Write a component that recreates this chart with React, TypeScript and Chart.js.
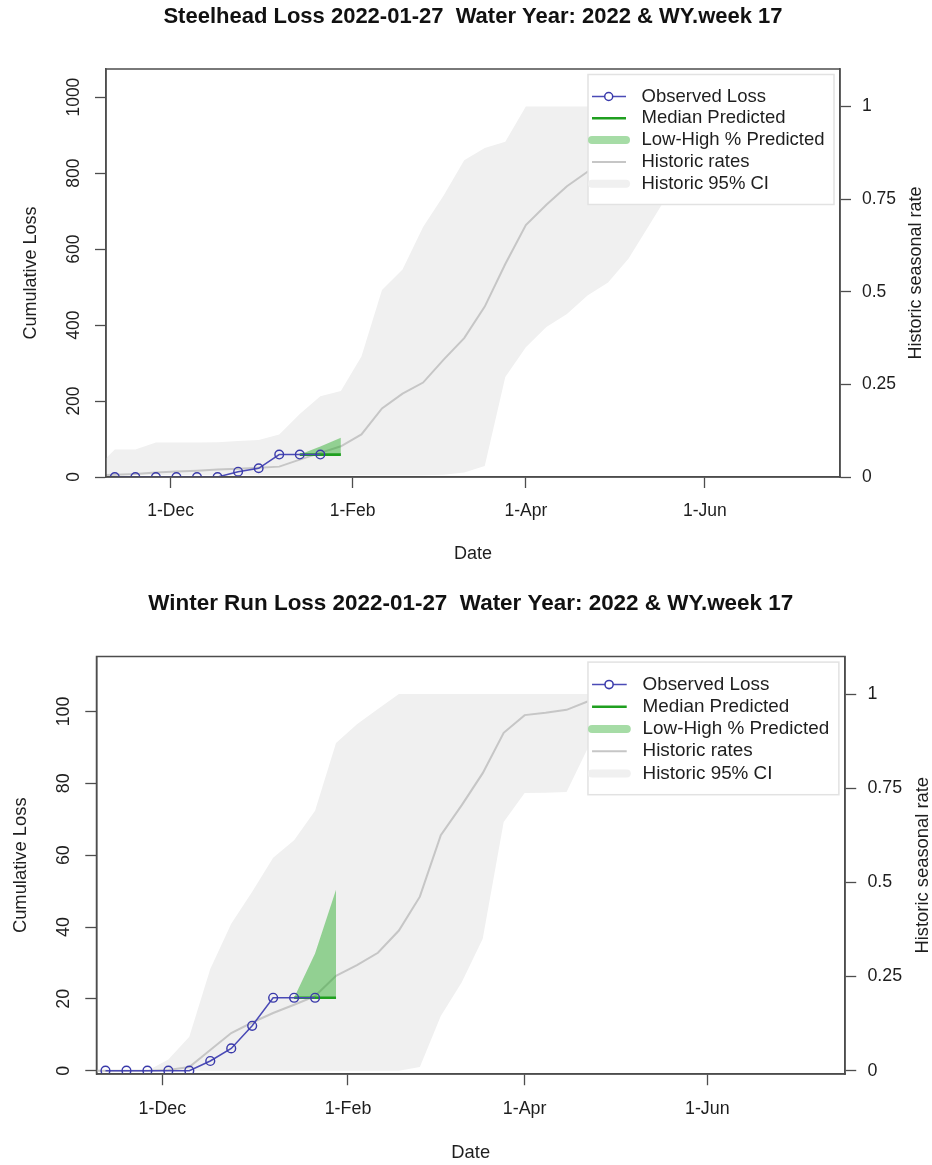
import React, { useEffect, useRef } from 'react';
import { Chart, registerables } from 'chart.js';

Chart.register(...registerables);

const FONT = '"Liberation Sans", Arial, Helvetica, sans-serif';

// x values are days counted from 1 Oct 2021 (start of water year 2022)
const xMinDay = 39;
const xMaxDay = 289;
const dateTickDays = [61, 123, 182, 243];
const dateTickLabels = ['1-Dec', '1-Feb', '1-Apr', '1-Jun'];

const observedDays = [42, 49, 56, 63, 70, 77, 84, 91, 98, 105, 112];
const predictedDays = [105, 112, 119];
const historicDays = [35, 42, 49, 56, 63, 70, 77, 84, 91, 98, 105, 112, 119, 126, 133, 140, 147, 154, 161, 168, 175, 182, 189, 196, 203, 210, 217, 224, 231, 238, 245, 252, 259, 266, 273, 280];

const rateTicks = [0, 0.25, 0.5, 0.75, 1];
const rateTickLabels = ['0', '0.25', '0.5', '0.75', '1'];

const legendLabels = ['Observed Loss', 'Median Predicted', 'Low-High % Predicted', 'Historic rates', 'Historic 95% CI'];
const xAxisTitle = 'Date';
const lossAxisTitle = 'Cumulative Loss';
const rateAxisTitle = 'Historic seasonal rate';

// Steelhead
const shTitle = 'Steelhead Loss 2022-01-27  Water Year: 2022 & WY.week 17';
const shLossTicks = [0, 200, 400, 600, 800, 1000];
const shObserved = [0, 0, 0, 0, 0, 0, 14, 23, 59, 59, 59];
const shMedian = [59, 59, 59];
const shLow = [59, 59, 59];
const shHigh = [59, 80, 103];
const shHistRate = [0.004, 0.006, 0.008, 0.012, 0.015, 0.017, 0.02, 0.022, 0.025, 0.028, 0.047, 0.065, 0.083, 0.115, 0.185, 0.225, 0.255, 0.317, 0.375, 0.46, 0.575, 0.68, 0.735, 0.785, 0.824, 0.86, 0.89, 0.92, 0.945, 0.965, 0.98, 0.99, 1, 1, 1, 1];
const shCiHigh = [0.02, 0.074, 0.074, 0.093, 0.093, 0.093, 0.094, 0.097, 0.1, 0.115, 0.17, 0.218, 0.232, 0.325, 0.505, 0.56, 0.675, 0.76, 0.855, 0.888, 0.905, 1, 1, 1, 1, 1, 1, 1, 1, 1, 1, 1, 1, 1, 1, 1];
const shCiLow = [0.005, 0.005, 0.005, 0.005, 0.005, 0.005, 0.005, 0.005, 0.005, 0.005, 0.005, 0.005, 0.005, 0.005, 0.005, 0.005, 0.005, 0.006, 0.012, 0.03, 0.27, 0.35, 0.405, 0.44, 0.49, 0.525, 0.59, 0.68, 0.77, 0.86, 0.94, 0.99, 1, 1, 1, 1];

// Winter run
const wrTitle = 'Winter Run Loss 2022-01-27  Water Year: 2022 & WY.week 17';
const wrLossTicks = [0, 20, 40, 60, 80, 100];
const wrObserved = [0, 0, 0, 0, 0, 2.7, 6.2, 12.5, 20.3, 20.3, 20.3];
const wrMedian = [20.3, 20.3, 20.3];
const wrLow = [20.3, 20.3, 20.3];
const wrHigh = [20.3, 32.6, 50.4];
const wrHistRate = [0, 0, 0, 0, 0.002, 0.01, 0.055, 0.1, 0.128, 0.153, 0.175, 0.198, 0.252, 0.28, 0.313, 0.372, 0.462, 0.625, 0.705, 0.79, 0.897, 0.944, 0.95, 0.958, 0.98, 0.99, 1, 1, 1, 1, 1, 1, 1, 1, 1, 1];
const wrCiHigh = [0, 0, 0, 0, 0.03, 0.09, 0.27, 0.39, 0.475, 0.565, 0.612, 0.69, 0.87, 0.92, 0.96, 1, 1, 1, 1, 1, 1, 1, 1, 1, 1, 1, 1, 1, 1, 1, 1, 1, 1, 1, 1, 1];
const wrCiLow = [0, 0, 0, 0, 0, 0, 0, 0, 0, 0, 0, 0, 0, 0, 0, 0, 0.01, 0.145, 0.235, 0.35, 0.66, 0.737, 0.738, 0.74, 0.855, 0.95, 1, 1, 1, 1, 1, 1, 1, 1, 1, 1];

const COL_OBS_LINE = '#4a4ab6';
const COL_OBS_PT = '#3a3aaa';
const COL_MED = '#1f9f1f';
const COL_FILL = 'rgba(34,170,34,0.46)';
const COL_LEG_FILL = '#a6dca6';
const COL_HIST = '#c6c6c6';
const COL_CI = '#f0f0f0';
const COL_AXIS = '#4d4d4d';
const COL_TEXT = '#1e1e1e';

type Area = { left: number; right: number; top: number; bottom: number };
type Spec = {
  title: string;
  lossTicks: number[];
  lossMin: number;
  lossMax: number;
  rateMin: number;
  rateMax: number;
  observed: number[];
  median: number[];
  low: number[];
  high: number[];
  histRate: number[];
  ciLow: number[];
  ciHigh: number[];
  canvasTop: number;
  canvasHeight: number;
  area: Area;
  s: number;
};

const steelheadSpec: Spec = {
  title: shTitle, lossTicks: shLossTicks, lossMin: 0, lossMax: 1074, rateMin: 0, rateMax: 1.1015,
  observed: shObserved, median: shMedian, low: shLow, high: shHigh,
  histRate: shHistRate, ciLow: shCiLow, ciHigh: shCiHigh,
  canvasTop: 0, canvasHeight: 582, area: { left: 106, right: 840, top: 69, bottom: 477 }, s: 1,
};

const winterSpec: Spec = {
  title: wrTitle, lossTicks: wrLossTicks, lossMin: -0.92, lossMax: 115.3, rateMin: -0.0088, rateMax: 1.0996,
  observed: wrObserved, median: wrMedian, low: wrLow, high: wrHigh,
  histRate: wrHistRate, ciLow: wrCiLow, ciHigh: wrCiHigh,
  canvasTop: 582, canvasHeight: 583, area: { left: 96.5, right: 845, top: 74.5, bottom: 492 }, s: 1.02,
};

const rStylePlugin = {
  id: 'rStyle',
  afterDraw(chart: any, _args: any, opts: any) {
    const { ctx, chartArea: a } = chart;
    const s = opts.s;
    const cx = (a.left + a.right) / 2;
    const cy = (a.top + a.bottom) / 2;
    ctx.save();
    // legend
    const lw = 246 * s;
    const lh = 130 * s;
    const lx = a.right - 6 * s - lw;
    const ly = a.top + 5.5 * s;
    ctx.fillStyle = '#ffffff';
    ctx.fillRect(lx, ly, lw, lh);
    ctx.strokeStyle = '#e2e2e2';
    ctx.lineWidth = 1.5;
    ctx.strokeRect(lx, ly, lw, lh);
    legendLabels.forEach((label, i) => {
      const y = ly + 22 * s + i * 21.8 * s;
      const x0 = lx + 4 * s;
      const x1 = lx + 38 * s;
      ctx.beginPath();
      ctx.moveTo(x0, y);
      ctx.lineTo(x1, y);
      if (i === 0) {
        ctx.lineCap = 'butt';
        ctx.strokeStyle = COL_OBS_LINE;
        ctx.lineWidth = 1.5 * s;
        ctx.stroke();
        ctx.beginPath();
        ctx.arc(lx + 20.7 * s, y, 4 * s, 0, Math.PI * 2);
        ctx.fillStyle = '#ffffff';
        ctx.fill();
        ctx.strokeStyle = COL_OBS_PT;
        ctx.lineWidth = 1.5 * s;
        ctx.stroke();
      } else if (i === 1) {
        ctx.lineCap = 'butt';
        ctx.strokeStyle = COL_MED;
        ctx.lineWidth = 2.5 * s;
        ctx.stroke();
      } else if (i === 2) {
        ctx.lineCap = 'round';
        ctx.strokeStyle = COL_LEG_FILL;
        ctx.lineWidth = 8 * s;
        ctx.stroke();
      } else if (i === 3) {
        ctx.lineCap = 'butt';
        ctx.strokeStyle = COL_HIST;
        ctx.lineWidth = 2 * s;
        ctx.stroke();
      } else {
        ctx.lineCap = 'round';
        ctx.strokeStyle = COL_CI;
        ctx.lineWidth = 8 * s;
        ctx.stroke();
      }
      ctx.fillStyle = COL_TEXT;
      ctx.font = `${18.5 * s}px ${FONT}`;
      ctx.textAlign = 'left';
      ctx.textBaseline = 'middle';
      ctx.fillText(label, lx + 53.5 * s, y);
    });
    // plot box
    ctx.lineCap = 'butt';
    ctx.strokeStyle = COL_AXIS;
    ctx.lineWidth = 1.5;
    ctx.strokeRect(a.left, a.top, a.right - a.left, a.bottom - a.top);
    // titles
    ctx.fillStyle = '#111111';
    ctx.textAlign = 'center';
    ctx.textBaseline = 'middle';
    ctx.font = `bold ${22 * s}px ${FONT}`;
    ctx.fillText(opts.title, cx, a.top - 52 * s);
    ctx.fillStyle = COL_TEXT;
    ctx.font = `${18 * s}px ${FONT}`;
    ctx.fillText(xAxisTitle, cx, a.bottom + 77 * s);
    ctx.save();
    ctx.translate(a.left - 74.5 * s, cy);
    ctx.rotate(-Math.PI / 2);
    ctx.fillText(lossAxisTitle, 0, 0);
    ctx.restore();
    ctx.save();
    ctx.translate(a.right + 76 * s, cy);
    ctx.rotate(-Math.PI / 2);
    ctx.fillText(rateAxisTitle, 0, 0);
    ctx.restore();
    ctx.restore();
  },
};

function buildConfig(sp: Spec): any {
  const s = sp.s;
  const W = 932;
  const tl = 11 * s;
  const tickSize = 17.5 * s;
  const tickFont = { family: FONT, size: tickSize, lineHeight: 1.2 };
  const mctx = document.createElement('canvas').getContext('2d')!;
  mctx.font = `${tickSize}px ${FONT}`;
  const widest = Math.max(...sp.lossTicks.map((v) => mctx.measureText(String(v)).width));
  const leftPad = 32 * s - tl - widest / 2;
  const xAxisHeight = 60;
  const grid = { display: true, drawOnChartArea: false, drawTicks: true, tickLength: tl, tickColor: COL_AXIS, tickWidth: 1.3 };
  const border = { display: true, color: COL_AXIS, width: 1.5 };
  const pts = (xs: number[], ys: number[]) => xs.map((x, i) => ({ x, y: ys[i] }));
  const hidden = { borderColor: 'rgba(0,0,0,0)', borderWidth: 0, pointRadius: 0 };
  return {
    type: 'line',
    data: {
      datasets: [
        {
          label: legendLabels[0], data: pts(observedDays, sp.observed), yAxisID: 'y',
          borderColor: COL_OBS_LINE, borderWidth: 1.5 * s, pointRadius: 4.3 * s, pointBorderWidth: 1.4 * s,
          pointBorderColor: COL_OBS_PT, pointBackgroundColor: 'rgba(0,0,0,0)', fill: false, clip: 0,
        },
        { label: legendLabels[1], data: pts(predictedDays, sp.median), yAxisID: 'y', borderColor: COL_MED, borderWidth: 2.6 * s, pointRadius: 0, fill: false },
        { label: 'High predicted', data: pts(predictedDays, sp.high), yAxisID: 'y', ...hidden, fill: '+1', backgroundColor: COL_FILL },
        { label: 'Low predicted', data: pts(predictedDays, sp.low), yAxisID: 'y', ...hidden, fill: false },
        { label: legendLabels[3], data: pts(historicDays, sp.histRate), yAxisID: 'y1', borderColor: COL_HIST, borderWidth: 2 * s, pointRadius: 0, fill: false },
        { label: 'CI high', data: pts(historicDays, sp.ciHigh), yAxisID: 'y1', ...hidden, fill: '+1', backgroundColor: COL_CI },
        { label: 'CI low', data: pts(historicDays, sp.ciLow), yAxisID: 'y1', ...hidden, fill: false },
      ],
    },
    options: {
      responsive: false,
      animation: false,
      devicePixelRatio: 1,
      events: [],
      layout: {
        autoPadding: false,
        padding: { left: 0, right: 0, top: sp.area.top, bottom: sp.canvasHeight - sp.area.bottom - xAxisHeight },
      },
      plugins: {
        legend: { display: false },
        tooltip: { enabled: false },
        title: { display: false },
        rStyle: { s, title: sp.title },
      },
      scales: {
        x: {
          type: 'linear', position: 'bottom', min: xMinDay, max: xMaxDay,
          afterBuildTicks: (sc: any) => { sc.ticks = dateTickDays.map((v) => ({ value: v })); },
          afterFit: (sc: any) => { sc.height = xAxisHeight; },
          ticks: {
            autoSkip: false, maxRotation: 0, minRotation: 0, font: tickFont, color: COL_TEXT, padding: 12.5 * s,
            callback: (v: number) => { const i = dateTickDays.indexOf(v); return i >= 0 ? dateTickLabels[i] : ''; },
          },
          grid, border,
        },
        y: {
          type: 'linear', position: 'left', min: sp.lossMin, max: sp.lossMax,
          afterBuildTicks: (sc: any) => { sc.ticks = sp.lossTicks.map((v) => ({ value: v })); },
          afterFit: (sc: any) => { sc.width = sp.area.left; },
          ticks: {
            autoSkip: false, minRotation: 90, maxRotation: 90, crossAlign: 'center', font: tickFont, color: COL_TEXT, padding: leftPad,
            callback: (v: number) => String(v),
          },
          grid, border,
        },
        y1: {
          type: 'linear', position: 'right', min: sp.rateMin, max: sp.rateMax,
          afterBuildTicks: (sc: any) => { sc.ticks = rateTicks.map((v) => ({ value: v })); },
          afterFit: (sc: any) => { sc.width = W - sp.area.right; },
          ticks: {
            autoSkip: false, crossAlign: 'near', font: tickFont, color: COL_TEXT, padding: 22 * s - tl,
            callback: (v: number) => { const i = rateTicks.indexOf(v); return i >= 0 ? rateTickLabels[i] : ''; },
          },
          grid, border,
        },
      },
    },
    plugins: [rStylePlugin],
  };
}

function LossChart({ spec }: { spec: Spec }) {
  const ref = useRef<HTMLCanvasElement>(null);
  useEffect(() => {
    if (!ref.current) return;
    const chart = new Chart(ref.current, buildConfig(spec));
    return () => chart.destroy();
  }, [spec]);
  return (
    <canvas
      ref={ref}
      width={932}
      height={spec.canvasHeight}
      style={{ position: 'absolute', left: 0, top: spec.canvasTop, width: 932, height: spec.canvasHeight }}
    />
  );
}

export default function App() {
  return (
    <div style={{ position: 'absolute', left: 0, top: 0, width: 932, height: 1165, background: '#ffffff', overflow: 'hidden' }}>
      <LossChart spec={steelheadSpec} />
      <LossChart spec={winterSpec} />
    </div>
  );
}
